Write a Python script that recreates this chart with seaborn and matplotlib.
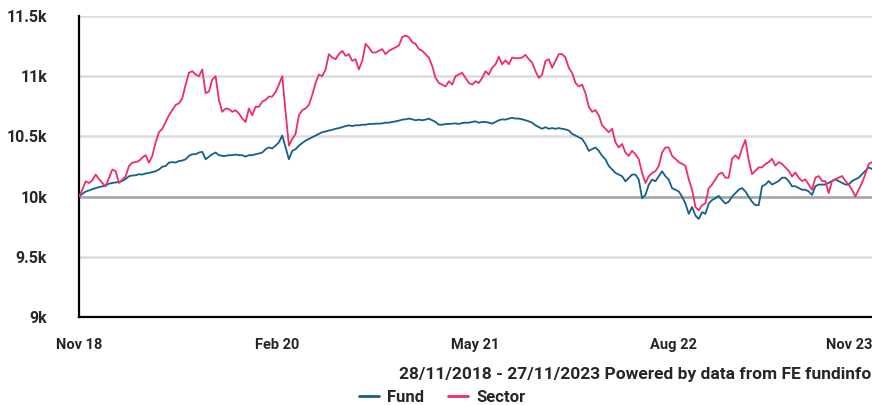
import pandas as pd
import numpy as np
import matplotlib
matplotlib.use("Agg")
import matplotlib.pyplot as plt
import seaborn as sns

# values (growth of 10k)
fund = [
    10000, 10023, 10042, 10051, 10062, 10070, 10079, 10085, 10093, 10107,
    10113, 10118, 10121, 10130, 10146, 10169, 10175, 10177, 10186, 10183,
    10192, 10197, 10203, 10211, 10225, 10248, 10254, 10282, 10287, 10282,
    10296, 10299, 10310, 10338, 10352, 10352, 10366, 10372, 10310, 10332,
    10352, 10366, 10344, 10338, 10338, 10344, 10344, 10349, 10344, 10344,
    10332, 10344, 10344, 10352, 10358, 10366, 10394, 10408, 10400, 10423,
    10451, 10507, 10408, 10310, 10380, 10394, 10423, 10445, 10465, 10479,
    10493, 10507, 10521, 10535, 10541, 10549, 10555, 10563, 10569, 10577,
    10586, 10592, 10586, 10592, 10592, 10597, 10597, 10603, 10603, 10606,
    10606, 10608, 10614, 10614, 10620, 10625, 10631, 10639, 10642, 10648,
    10642, 10634, 10639, 10634, 10639, 10648, 10634, 10620, 10597, 10597,
    10603, 10603, 10606, 10608, 10603, 10611, 10614, 10614, 10620, 10625,
    10614, 10620, 10620, 10614, 10606, 10620, 10634, 10642, 10639, 10648,
    10654, 10648, 10648, 10642, 10634, 10625, 10614, 10592, 10577, 10563,
    10577, 10563, 10569, 10563, 10569, 10563, 10558, 10549, 10521, 10507,
    10493, 10479, 10437, 10380, 10394, 10408, 10380, 10338, 10310, 10254,
    10225, 10197, 10183, 10169, 10127, 10155, 10183, 10183, 10141, 9986,
    10014, 10099, 10141, 10127, 10169, 10211, 10169, 10141, 10070,
    10057, 10043, 10000, 9943, 9857, 9914, 9843, 9814, 9871, 9857,
    9943, 9971, 9986, 10006, 9971, 9943, 9957, 10000, 10029, 10057,
    10071, 10043, 10000, 9957, 9929, 9929, 10086, 10100, 10129, 10100,
    10114, 10129, 10157, 10157, 10129, 10086, 10086, 10071, 10057, 10057,
    10043, 10014, 10086, 10100, 10100, 10100, 10114, 10129, 10143, 10129,
    10114, 10100, 10100, 10129, 10143, 10157, 10186, 10214, 10243, 10229,
]
sector = [
    10000, 10056, 10127, 10113, 10135, 10183, 10146, 10113, 10085, 10155,
    10225, 10211, 10113, 10141, 10169, 10254, 10282, 10287, 10296, 10324,
    10344, 10282, 10338, 10451, 10535, 10563, 10620, 10676, 10718, 10761,
    10775, 10817, 10930, 11028, 11042, 11014, 11000, 11056, 10859, 10873,
    10972, 11000, 10800, 10704, 10732, 10727, 10704, 10718, 10690, 10648,
    10620, 10732, 10676, 10746, 10746, 10789, 10803, 10831, 10831, 10868,
    10930, 11000, 10704, 10423, 10479, 10521, 10676, 10718, 10732, 10761,
    10845, 10944, 11014, 11000, 11056, 11183, 11155, 11141, 11183, 11211,
    11169, 11183, 11127, 11141, 11056, 11127, 11268, 11239, 11197, 11197,
    11211, 11225, 11183, 11211, 11225, 11239, 11254, 11324, 11338, 11324,
    11282, 11268, 11225, 11211, 11183, 11155, 11085, 10986, 10944, 10930,
    10915, 10958, 10930, 11000, 11014, 11028, 10986, 10944, 10930, 10958,
    10944, 10986, 11042, 11014, 11070, 11099, 11161, 11099, 11132, 11099,
    11155, 11149, 11149, 11155, 11177, 11141, 11113, 11042, 10986, 11014,
    11127, 11141, 11070, 11127, 11183, 11183, 11155, 11070, 11028, 10944,
    10915, 10930, 10859, 10746, 10704, 10718, 10676, 10592, 10563, 10535,
    10563, 10451, 10408, 10437, 10366, 10338, 10380, 10352, 10310, 10197,
    10113, 10169, 10197, 10211, 10254, 10366, 10408, 10408, 10338,
    10314, 10286, 10271, 10257, 10143, 10057, 9914, 9886, 9929, 9943,
    10071, 10100, 10143, 10186, 10200, 10157, 10157, 10314, 10343, 10314,
    10400, 10471, 10300, 10186, 10214, 10243, 10243, 10271, 10286, 10314,
    10257, 10286, 10271, 10243, 10214, 10166, 10200, 10157, 10129, 10143,
    10100, 10057, 10157, 10171, 10129, 10129, 10029, 10129, 10143, 10157,
    10171, 10129, 10100, 10057, 10000, 10057, 10114, 10186, 10271, 10286,
]
tick_labels = ["Nov 18", "Feb 20", "May 21", "Aug 22", "Nov 23"]
y_ticks = [9000, 9500, 10000, 10500, 11000, 11500]
y_labels = ["9k", "9.5k", "10k", "10.5k", "11k", "11.5k"]
start, end = "2018-11-28", "2023-11-27"

dates = pd.date_range(start, end, periods=len(fund))
df = pd.DataFrame({"Date": dates, "Fund": fund, "Sector": sector})
df = df.melt(id_vars="Date", var_name="Series", value_name="Value")

sns.set_style("white")
plt.rcParams["font.family"] = ["Roboto", "DejaVu Sans"]
plt.rcParams["font.weight"] = "bold"

fig = plt.figure(figsize=(8.72, 4.05), dpi=100)
ax = fig.add_axes([79 / 872, 1 - 317 / 405, 793 / 872, 301 / 405])

ax.axhline(10000, color="#a6a6a6", lw=1.8, zorder=1)
sns.lineplot(data=df, x="Date", y="Value", hue="Series",
             palette={"Fund": "#13608a", "Sector": "#ee2d67"},
             lw=1.3, ax=ax, legend=False, zorder=3)

ax.set_xlim(pd.Timestamp(start), pd.Timestamp(end))
ax.set_ylim(9000, 11500)
ax.set_yticks(y_ticks)
ax.set_yticklabels(y_labels, fontsize=11.5)
ax.set_xticks(pd.date_range(start, end, periods=len(tick_labels)))
ax.set_xticklabels(tick_labels, fontsize=10.5)
ax.get_xticklabels()[-1].set_horizontalalignment("right")
ax.yaxis.grid(True, color="#dcdcdc", lw=1.8)
ax.set_axisbelow(True)
ax.tick_params(axis="both", length=5, width=1.2, color="black")
ax.tick_params(axis="x", pad=10)
ax.tick_params(axis="y", pad=18)
ax.set_xlabel("")
ax.set_ylabel("")
for s in ["top", "right"]:
    ax.spines[s].set_visible(False)
for s in ["left", "bottom"]:
    ax.spines[s].set_color("black")
    ax.spines[s].set_linewidth(1.6)

fig.text(871 / 872, 1 - 375 / 405, "28/11/2018 - 27/11/2023 Powered by data from FE fundinfo",
         ha="right", va="center", fontsize=12.5)

handles = [plt.Line2D([], [], color="#13608a", lw=2),
           plt.Line2D([], [], color="#ee2d67", lw=2)]
fig.legend(handles, ["Fund", "Sector"], loc="center", bbox_to_anchor=(442 / 872, 1 - 397 / 405),
           ncol=2, frameon=False, fontsize=12, handlelength=1.2, columnspacing=1.4,
           handletextpad=0.5, borderpad=0)

fig.savefig("out.png", dpi=100)
